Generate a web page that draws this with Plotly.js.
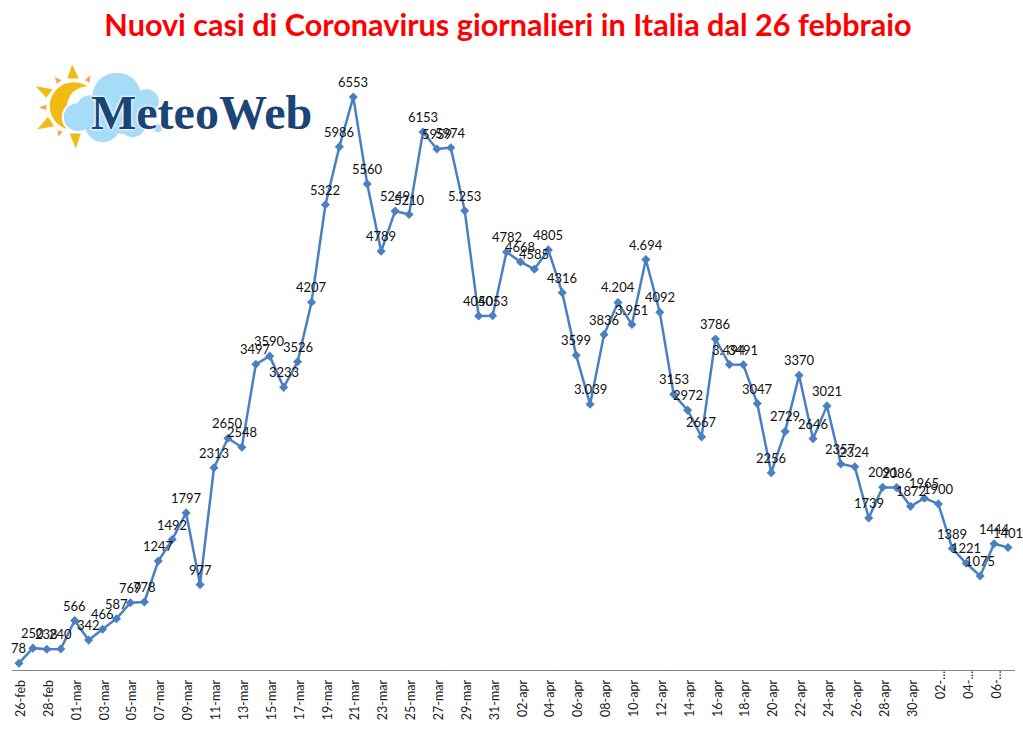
<!DOCTYPE html>
<html>
<head>
<meta charset="utf-8">
<script src="https://cdn.plot.ly/plotly-3.0.1.min.js"></script>
<style>html,body{margin:0;padding:0;background:#fff}</style>
</head>
<body>
<div id="chart" style="width:1023px;height:736px"></div>
<script>
var dates = ["26-feb","27-feb","28-feb","29-feb",
"01-mar","02-mar","03-mar","04-mar","05-mar","06-mar","07-mar","08-mar","09-mar","10-mar","11-mar","12-mar","13-mar","14-mar","15-mar","16-mar","17-mar","18-mar","19-mar","20-mar","21-mar","22-mar","23-mar","24-mar","25-mar","26-mar","27-mar","28-mar","29-mar","30-mar","31-mar",
"01-apr","02-apr","03-apr","04-apr","05-apr","06-apr","07-apr","08-apr","09-apr","10-apr","11-apr","12-apr","13-apr","14-apr","15-apr","16-apr","17-apr","18-apr","19-apr","20-apr","21-apr","22-apr","23-apr","24-apr","25-apr","26-apr","27-apr","28-apr","29-apr","30-apr",
"01-mag","02-mag","03-mag","04-mag","05-mag","06-mag","07-mag"];
var cases = [78,250,238,240,
566,342,466,587,769,778,1247,1492,1797,977,2313,2650,2548,3497,3590,3233,3526,4207,5322,5986,6553,5560,4789,5249,5210,6153,5959,5974,5253,4050,4053,
4782,4668,4585,4805,4316,3599,3039,3836,4204,3951,4694,4092,3153,2972,2667,3786,3494,3491,3047,2256,2729,3370,2646,3021,2357,2324,1739,2091,2086,1872,
1965,1900,1389,1221,1075,1444,1401];
var dotted = {32:"5.253",41:"3.039",43:"4.204",44:"3.951",45:"4.694",51:"3.494"};
var labels = cases.map(function(v,i){return dotted[i]||String(v);});
var tickIdx = dates.map(function(d,i){return i;}).filter(function(i){return i%2===0;});
var truncated = {66:"02-...",68:"04-...",70:"06-..."};

var W=1023,H=736,L=12.3,R=1014.7,T=57.8,B=670.3;
function px(x){return (x-L)/(R-L);}
function py(y){return (B-y)/(B-T);}
function circle(cx,cy,r,c){return {type:'circle',xref:'paper',yref:'paper',x0:px(cx-r),x1:px(cx+r),y0:py(cy+r),y1:py(cy-r),fillcolor:c,line:{width:0},layer:'above'};}
function tri(p,c){var d='M'+p.map(function(q){return px(q[0])+','+py(q[1]);}).join('L')+'Z';return {type:'path',xref:'paper',yref:'paper',path:d,fillcolor:c,line:{width:0},layer:'above'};}
var SUN='#f2bb13',RAY='#f7a659',CLOUD='#a6dcf8';
var lobes=[[117,97,24.5],[90,108,13],[78,117,14],[103,124,18],[133,124,13],[147,101,12],[125,112,22],[158,128,4]];
var logo=[
 tri([[72.3,64],[67.7,78.3],[79,78.3]],SUN),
 tri([[76,148.3],[70,133.3],[81,133.3]],SUN),
 tri([[36,86],[52.7,89],[46.7,97.7]],SUN),
 tri([[37.7,129],[48.3,116.7],[54.3,126]],SUN),
 tri([[55,76.7],[61.7,80],[57.3,84]],RAY),
 tri([[90.7,75],[85,80],[90,82.3]],RAY),
 tri([[39.3,107.3],[46.7,104.3],[46.7,110]],RAY),
 tri([[58.3,136.7],[57.7,130],[63.3,131.7]],RAY),
 circle(74,106,24,SUN),
 circle(88,107,21,'#ffffff')
];
lobes.forEach(function(l){logo.push(circle(l[0],l[1],l[2]+2,'#ffffff'));});
lobes.forEach(function(l){logo.push(circle(l[0],l[1],l[2],CLOUD));});

var anns = cases.map(function(v,i){
  return {x:i,y:v,xref:'x',yref:'y',text:labels[i],showarrow:false,xanchor:'center',yanchor:'middle',yshift:15,
          font:{family:'Lato, sans-serif',size:13,color:'#111'}};
});
Object.keys(truncated).forEach(function(k){
  anns.push({x:+k,y:0,xref:'x',yref:'paper',text:truncated[k],showarrow:false,textangle:-90,xanchor:'center',yanchor:'top',yshift:1,xshift:1.5,
             font:{family:'Lato, sans-serif',size:12.5,color:'#222'}});
});
anns.push({xref:'paper',yref:'paper',x:px(201.5),y:py(112),text:'<b>MeteoWeb</b>',showarrow:false,xanchor:'center',yanchor:'middle',
  font:{family:'Liberation Serif, serif',size:48,color:'#1b4477',shadow:'0 0 2px #fff, 0 0 3px #fff, 0 0 3px #fff'}});

Plotly.newPlot('chart',[{
  type:'scatter',mode:'lines+markers',x:dates.map(function(d,i){return i;}),y:cases,
  line:{color:'#4a80c2',width:2.5},
  marker:{symbol:'diamond',size:7,color:'#4a80c2'},
  hoverinfo:'skip',showlegend:false
}],{
  width:W,height:H,autosize:false,
  margin:{l:L,r:W-R,t:T,b:H-B,pad:0},
  paper_bgcolor:'#fff',plot_bgcolor:'#fff',
  showlegend:false,
  title:{text:'<b>Nuovi casi di Coronavirus giornalieri in Italia dal 26 febbraio</b>',x:508/W,xanchor:'center',y:1-25/H,yanchor:'middle',yref:'container',
         font:{family:'Lato, sans-serif',size:30.6,color:'#ff0000'}},
  xaxis:{range:[-0.5,71.5],tickmode:'array',
    tickvals:tickIdx.filter(function(i){return !truncated[i];}),
    ticktext:tickIdx.filter(function(i){return !truncated[i];}).map(function(i){return dates[i];}),
    tickangle:-90,ticks:'',showgrid:false,zeroline:false,showline:true,linecolor:'#868686',linewidth:1,
    ticklabelstandoff:4,ticklabelshift:2,
    tickfont:{family:'Lato, sans-serif',size:12.5,color:'#222'},fixedrange:true},
  yaxis:{range:[0,7000],visible:false,showgrid:false,zeroline:false,fixedrange:true},
  annotations:anns,
  shapes:logo
},{displayModeBar:false,staticPlot:true});
</script>
</body>
</html>
